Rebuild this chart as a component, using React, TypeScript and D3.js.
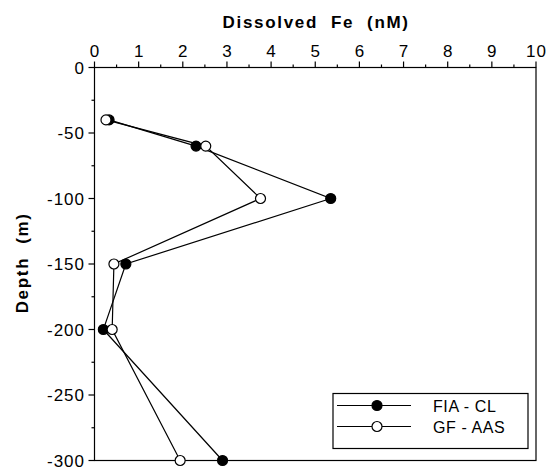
import React from "react";
import * as d3 from "d3";

// Sampling depths (m) and dissolved Fe concentrations (nM) by method
const depths = [40, 60, 100, 150, 200, 300];
const fiaCl = [0.33, 2.3, 5.35, 0.71, 0.2, 2.9];
const gfAas = [0.26, 2.52, 3.76, 0.44, 0.4, 1.94];

const xTicks = [0, 1, 2, 3, 4, 5, 6, 7, 8, 9, 10];
const yTicks = [0, -50, -100, -150, -200, -250, -300];

const seriesNames = ["FIA - CL", "GF - AAS"];

const W = 549;
const H = 472;
const M = { left: 94.5, right: 536, top: 67.5, bottom: 460.5 };
const FONT = "'Liberation Sans', Arial, Helvetica, sans-serif";
const TICK_LS = 1;
const TITLE_LS = 1.7;

export default function App() {
  const x = d3.scaleLinear().domain([0, 10]).range([M.left, M.right]);
  const y = d3.scaleLinear().domain([0, -300]).range([M.top, M.bottom]);

  const minorX = d3.range(0, 10.01, 0.5).filter((v) => v % 1 !== 0);
  const minorY = d3.range(-25, -300, -50);

  const line = d3
    .line<[number, number]>()
    .x((d) => x(d[0]))
    .y((d) => y(d[1]));

  const series = [
    { name: seriesNames[0], values: fiaCl, fill: "#000" },
    { name: seriesNames[1], values: gfAas, fill: "#fff" },
  ];

  const legend = { x0: 333, y0: 393.5, x1: 528, y1: 448.5 };

  return (
    <svg
      width={W}
      height={H}
      style={{ position: "absolute", left: 0, top: 0, background: "#fff" }}
      fontFamily={FONT}
    >
      <rect x={0} y={0} width={W} height={H} fill="#fff" />

      {/* Plot frame */}
      <rect
        x={M.left}
        y={M.top}
        width={M.right - M.left}
        height={M.bottom - M.top}
        fill="none"
        stroke="#000"
        strokeWidth={1.2}
      />

      {/* Top concentration axis */}
      {xTicks.map((t) => (
        <g key={"xt" + t}>
          <line x1={x(t)} x2={x(t)} y1={M.top} y2={M.top - 6} stroke="#000" strokeWidth={1.2} />
          <text
            x={x(t) + TICK_LS / 2}
            y={56.5}
            textAnchor="middle"
            fontSize={17}
            letterSpacing={TICK_LS}
          >
            {t}
          </text>
        </g>
      ))}
      {minorX.map((t) => (
        <line key={"xm" + t} x1={x(t)} x2={x(t)} y1={M.top} y2={M.top - 3} stroke="#000" strokeWidth={1.2} />
      ))}
      <text
        x={(M.left + M.right) / 2 + TITLE_LS / 2}
        y={28}
        textAnchor="middle"
        fontSize={17}
        fontWeight="bold"
        letterSpacing={TITLE_LS}
        style={{ whiteSpace: "pre" }}
      >
        {"Dissolved  Fe  (nM)"}
      </text>

      {/* Depth axis */}
      {yTicks.map((t) => (
        <g key={"yt" + t}>
          <line x1={M.left} x2={M.left - 6} y1={y(t)} y2={y(t)} stroke="#000" strokeWidth={1.2} />
          <text
            x={84 + TICK_LS}
            y={y(t) + 6}
            textAnchor="end"
            fontSize={17}
            letterSpacing={TICK_LS}
          >
            {t}
          </text>
        </g>
      ))}
      {minorY.map((t) => (
        <line key={"ym" + t} x1={M.left} x2={M.left - 3} y1={y(t)} y2={y(t)} stroke="#000" strokeWidth={1.2} />
      ))}
      <text
        transform={`translate(28, ${(M.top + M.bottom) / 2 - 2 + TITLE_LS / 2}) rotate(-90)`}
        textAnchor="middle"
        fontSize={17}
        fontWeight="bold"
        letterSpacing={TITLE_LS}
        style={{ whiteSpace: "pre" }}
      >
        {"Depth  (m)"}
      </text>

      {/* Profiles */}
      {series.map((s) => (
        <g key={s.name}>
          <path
            d={line(s.values.map((v, i) => [v, -depths[i]] as [number, number])) || ""}
            fill="none"
            stroke="#000"
            strokeWidth={1.2}
          />
          {s.values.map((v, i) => (
            <circle
              key={i}
              cx={x(v)}
              cy={y(-depths[i])}
              r={5}
              fill={s.fill}
              stroke="#000"
              strokeWidth={1.2}
            />
          ))}
        </g>
      ))}

      {/* Legend */}
      <rect
        x={legend.x0}
        y={legend.y0}
        width={legend.x1 - legend.x0}
        height={legend.y1 - legend.y0}
        fill="#fff"
        stroke="#000"
        strokeWidth={1.2}
      />
      {series.map((s, i) => {
        const ly = 405.5 + i * 21;
        return (
          <g key={"lg" + s.name}>
            <line x1={337} x2={411} y1={ly} y2={ly} stroke="#000" strokeWidth={1.2} />
            <circle cx={377} cy={ly} r={5} fill={s.fill} stroke="#000" strokeWidth={1.2} />
            <text x={433} y={ly + 6} fontSize={16} letterSpacing={0.6}>
              {s.name}
            </text>
          </g>
        );
      })}
    </svg>
  );
}
